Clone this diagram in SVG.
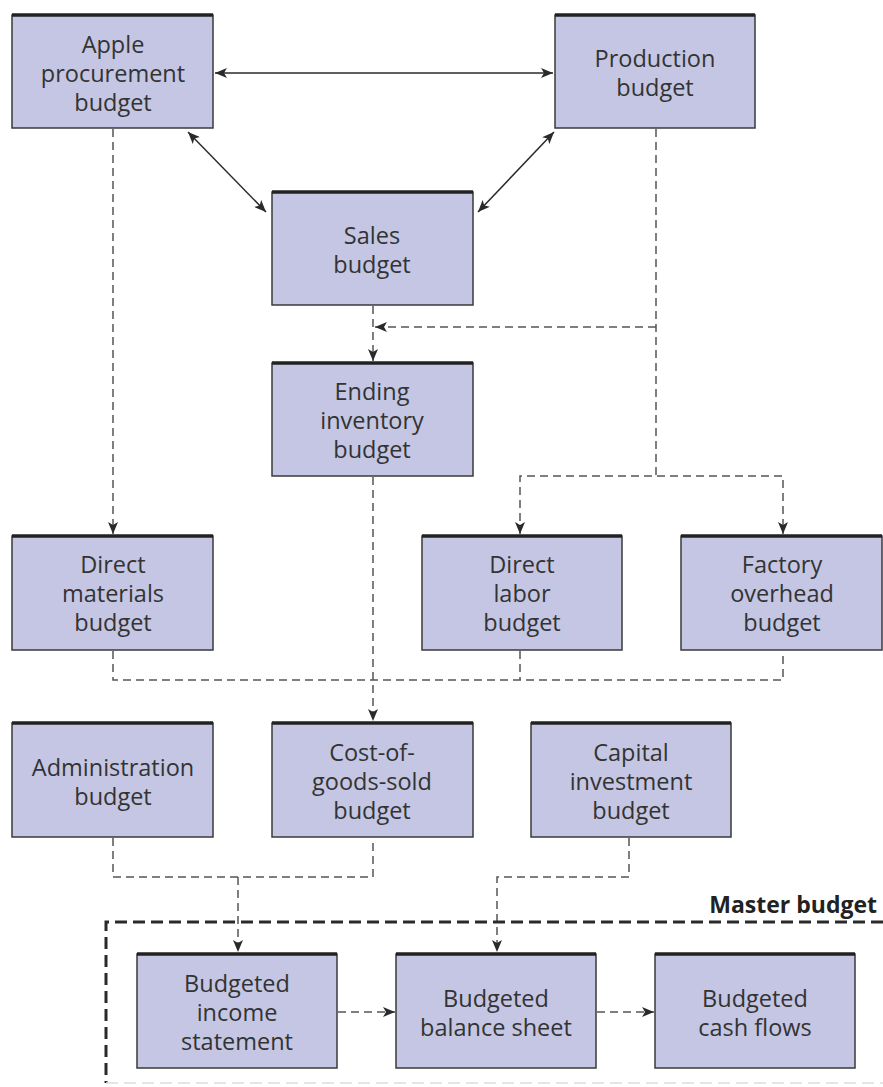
<svg xmlns="http://www.w3.org/2000/svg" width="883" height="1087" viewBox="0 0 883 1087">
<style>
.box{fill:#c4c6e3;stroke:#3a3a3a;stroke-width:1.5}
.top{stroke:#222;stroke-width:3.5}
.t{font-family:"Open Sans",Lato,sans-serif;font-size:23.5px;fill:#333;text-anchor:middle}
.solid{fill:none;stroke:#2a2a2a;stroke-width:1.5}
.dash{fill:none;stroke:#555;stroke-width:1.5;stroke-dasharray:8 5}
.master{fill:none;stroke:#2a2a2a;stroke-width:3;stroke-dasharray:12 6}
</style>
<defs>
<marker id="ah" viewBox="0 0 12 10" refX="12" refY="5" markerWidth="12" markerHeight="10" markerUnits="userSpaceOnUse" orient="auto-start-reverse">
<path d="M0,0 L12,5 L0,10 L3,5 Z" fill="#2a2a2a"/>
</marker>
</defs>
<rect width="883" height="1087" fill="#fff"/>
<g id="connectors">
<line class="solid" x1="215" y1="73" x2="553" y2="73" marker-start="url(#ah)" marker-end="url(#ah)"/>
<line class="solid" x1="188" y1="132" x2="266" y2="212" marker-start="url(#ah)" marker-end="url(#ah)"/>
<line class="solid" x1="554" y1="132" x2="478" y2="212" marker-start="url(#ah)" marker-end="url(#ah)"/>
<path class="dash" d="M113,129 V534" marker-end="url(#ah)"/>
<path class="dash" d="M656,129 V476"/>
<path class="dash" d="M656,327 H375" marker-end="url(#ah)"/>
<path class="dash" d="M373,306 V361" marker-end="url(#ah)"/>
<path class="dash" d="M520,534 V476 H783 V534" marker-start="url(#ah)" marker-end="url(#ah)"/>
<path class="dash" d="M373,477 V721" marker-end="url(#ah)"/>
<path class="dash" d="M113,651 V680 H783 V651"/>
<path class="dash" d="M520,651 V680"/>
<path class="dash" d="M113,838 V877 H373 V838"/>
<path class="dash" d="M238,877 V952" marker-end="url(#ah)"/>
<path class="dash" d="M629,838 V877 H497 V952" marker-end="url(#ah)"/>
<path class="dash" d="M338,1012 H395" marker-end="url(#ah)"/>
<path class="dash" d="M597,1012 H654" marker-end="url(#ah)"/>
</g>
<g id="master-budget">
<path class="master" d="M883,922 H106 V1083"/>
<path d="M106,1083 H883" fill="none" stroke="#ddd" stroke-width="1.5" stroke-dasharray="12 6"/>
<text x="877" y="913" font-family="'Open Sans',Lato,sans-serif" font-size="23" font-weight="bold" fill="#222" text-anchor="end">Master budget</text>
</g>
<g id="apple">
<rect class="box" x="12" y="15" width="201" height="113"/><line class="top" x1="12" y1="15" x2="213" y2="15"/>
<text class="t" x="113" y="53">Apple</text><text class="t" x="113" y="82">procurement</text><text class="t" x="113" y="111">budget</text>
</g>
<g id="production">
<rect class="box" x="555" y="15" width="200" height="113"/><line class="top" x1="555" y1="15" x2="755" y2="15"/>
<text class="t" x="655" y="67">Production</text><text class="t" x="655" y="96">budget</text>
</g>
<g id="sales">
<rect class="box" x="272" y="192" width="201" height="113"/><line class="top" x1="272" y1="192" x2="473" y2="192"/>
<text class="t" x="372" y="244">Sales</text><text class="t" x="372" y="273">budget</text>
</g>
<g id="ending">
<rect class="box" x="272" y="363" width="201" height="113"/><line class="top" x1="272" y1="363" x2="473" y2="363"/>
<text class="t" x="372" y="400">Ending</text><text class="t" x="372" y="429">inventory</text><text class="t" x="372" y="458">budget</text>
</g>
<g id="direct-materials">
<rect class="box" x="12" y="536" width="201" height="114"/><line class="top" x1="12" y1="536" x2="213" y2="536"/>
<text class="t" x="113" y="573">Direct</text><text class="t" x="113" y="602">materials</text><text class="t" x="113" y="631">budget</text>
</g>
<g id="direct-labor">
<rect class="box" x="422" y="536" width="200" height="114"/><line class="top" x1="422" y1="536" x2="622" y2="536"/>
<text class="t" x="522" y="573">Direct</text><text class="t" x="522" y="602">labor</text><text class="t" x="522" y="631">budget</text>
</g>
<g id="factory-overhead">
<rect class="box" x="681" y="536" width="201" height="114"/><line class="top" x1="681" y1="536" x2="882" y2="536"/>
<text class="t" x="782" y="573">Factory</text><text class="t" x="782" y="602">overhead</text><text class="t" x="782" y="631">budget</text>
</g>
<g id="administration">
<rect class="box" x="12" y="723" width="201" height="114"/><line class="top" x1="12" y1="723" x2="213" y2="723"/>
<text class="t" x="113" y="776">Administration</text><text class="t" x="113" y="805">budget</text>
</g>
<g id="cogs">
<rect class="box" x="272" y="723" width="201" height="114"/><line class="top" x1="272" y1="723" x2="473" y2="723"/>
<text class="t" x="372" y="761">Cost-of-</text><text class="t" x="372" y="790">goods-sold</text><text class="t" x="372" y="819">budget</text>
</g>
<g id="capital">
<rect class="box" x="531" y="723" width="200" height="114"/><line class="top" x1="531" y1="723" x2="731" y2="723"/>
<text class="t" x="631" y="761">Capital</text><text class="t" x="631" y="790">investment</text><text class="t" x="631" y="819">budget</text>
</g>
<g id="income">
<rect class="box" x="137" y="954" width="200" height="114"/><line class="top" x1="137" y1="954" x2="337" y2="954"/>
<text class="t" x="237" y="992">Budgeted</text><text class="t" x="237" y="1021">income</text><text class="t" x="237" y="1050">statement</text>
</g>
<g id="balance">
<rect class="box" x="396" y="954" width="200" height="114"/><line class="top" x1="396" y1="954" x2="596" y2="954"/>
<text class="t" x="496" y="1007">Budgeted</text><text class="t" x="496" y="1036">balance sheet</text>
</g>
<g id="cashflows">
<rect class="box" x="655" y="954" width="200" height="114"/><line class="top" x1="655" y1="954" x2="855" y2="954"/>
<text class="t" x="755" y="1007">Budgeted</text><text class="t" x="755" y="1036">cash flows</text>
</g>
</svg>
